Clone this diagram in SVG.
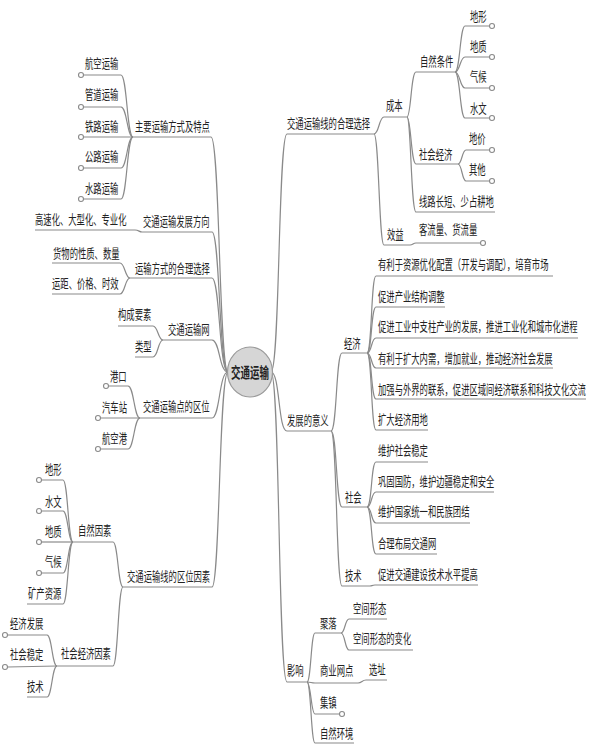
<svg xmlns="http://www.w3.org/2000/svg" width="591" height="746" viewBox="0 0 591 746">
<style>
.t{font-family:"Noto Sans CJK SC","Liberation Sans",sans-serif;font-size:13px;fill:#222;dominant-baseline:central}
.c{fill:none;stroke:#8a8a8a;stroke-width:1.2}
.d{fill:#fff;stroke:#8a8a8a;stroke-width:1.1}
</style>
<rect width="591" height="746" fill="#fff"/>
<g id="connectors">
<path class="c" d="M228,372 C219,372 220,137 211,137 L133,137"/>
<path class="c" d="M228,372 C219,372 220,232 212,232 L142,232"/>
<path class="c" d="M228,372 C219,372 220,278 212,278 L130,278"/>
<path class="c" d="M228,372 C219,372 220,340 212,340 L163,340"/>
<path class="c" d="M228,372 C219,372 220,418 212,418 L140,418"/>
<path class="c" d="M228,372 C219,372 220,587 212,587 L123,587"/>
<path class="c" d="M133,137 C127,137 127,75 121,75 L83.5,75"/>
<path class="c" d="M133,137 C127,137 127,107 121,107 L83.5,107"/>
<path class="c" d="M133,137 L83.5,137"/>
<path class="c" d="M133,137 C127,137 127,168 121,168 L83.5,168"/>
<path class="c" d="M133,137 C127,137 127,199 121,199 L83.5,199"/>
<path class="c" d="M142,232 C139,232 139,230 135,230 L35,230"/>
<path class="c" d="M130,278 C125,278 125,263 120,263 L52,263"/>
<path class="c" d="M130,278 C125,278 125,294 120,294 L52,294"/>
<path class="c" d="M163,340 C158,340 158,326 153,326 L118,326"/>
<path class="c" d="M163,340 C158,340 158,357 153,357 L135,357"/>
<path class="c" d="M140,418 C134,418 134,386 128,386 L108.5,386"/>
<path class="c" d="M140,418 L100.5,418"/>
<path class="c" d="M140,418 C134,418 134,449 128,449 L100.5,449"/>
<path class="c" d="M123,587 C118,587 118,542 113,542 L73,542"/>
<path class="c" d="M123,587 C118,587 118,666 113,666 L57,666"/>
<path class="c" d="M73,542 C68,542 68,480 63,480 L41.5,480"/>
<path class="c" d="M73,542 C68,542 68,511 63,511 L41.5,511"/>
<path class="c" d="M73,542 L41.5,542"/>
<path class="c" d="M73,542 C68,542 68,573 63,573 L41.5,573"/>
<path class="c" d="M73,542 C68,542 68,604 63,604 L27,604"/>
<path class="c" d="M57,666 C52,666 52,635 47,635 L7.5,635"/>
<path class="c" d="M57,666 L7.5,667"/>
<path class="c" d="M57,666 C52,666 52,697 47,697 L27,697"/>
<path class="c" d="M271,372 C280,372 278,134 287,134 L374,134"/>
<path class="c" d="M271,372 C280,372 278,431 287,431 L331,431"/>
<path class="c" d="M271,372 C280,372 278,682 287,682 L307,682"/>
<path class="c" d="M374,134 C379,134 379,117 384,117 L407,117"/>
<path class="c" d="M374,134 C379,134 379,245 384,245 L410,245"/>
<path class="c" d="M407,117 C411,117 411,72 416,72 L455,72"/>
<path class="c" d="M407,117 C411,117 411,164 416,164 L458,164"/>
<path class="c" d="M407,117 C411,117 411,212 416,212 L495,212"/>
<path class="c" d="M455,72 C460,72 460,26 465,26 L489.5,26"/>
<path class="c" d="M455,72 C460,72 460,57 465,57 L489.5,57"/>
<path class="c" d="M455,72 C460,72 460,88 465,88 L489.5,88"/>
<path class="c" d="M455,72 C460,72 460,118 465,118 L489.5,118"/>
<path class="c" d="M458,164 C462,164 462,150 466,150 L489.5,150"/>
<path class="c" d="M458,164 C462,164 462,181 466,181 L489.5,181"/>
<path class="c" d="M410,245 C413,245 413,243 416,243 L480.5,243"/>
<path class="c" d="M331,431 C337,431 336,353 342,353 L367,353"/>
<path class="c" d="M331,431 C337,431 336,507 342,507 L367,507"/>
<path class="c" d="M331,431 C337,431 336,586 342,586 L370,586"/>
<path class="c" d="M367,353 C372,353 371,276 376,276 L553,276"/>
<path class="c" d="M367,353 C372,353 371,307 376,307 L445,307"/>
<path class="c" d="M367,353 C372,353 371,338 376,338 L578,338"/>
<path class="c" d="M367,353 C372,353 371,368 376,368 L553,368"/>
<path class="c" d="M367,353 C372,353 371,399 376,399 L586,399"/>
<path class="c" d="M367,353 C372,353 371,430 376,430 L428,430"/>
<path class="c" d="M367,507 C372,507 371,462 376,462 L428,462"/>
<path class="c" d="M367,507 C372,507 371,492 376,492 L494,492"/>
<path class="c" d="M367,507 C372,507 371,523 376,523 L470,523"/>
<path class="c" d="M367,507 C372,507 371,554 376,554 L437,554"/>
<path class="c" d="M370,586 C372,586 372,585 375,585 L478,585"/>
<path class="c" d="M307,682 C311,682 311,633 315,633 L341,633"/>
<path class="c" d="M307,682 C311,682 311,683 315,683 L358,683"/>
<path class="c" d="M307,682 C311,682 311,714 315,714 L339.5,714"/>
<path class="c" d="M307,682 C311,682 311,743 315,743 L354,743"/>
<path class="c" d="M341,633 C345,633 345,619 349,619 L387,619"/>
<path class="c" d="M341,633 C345,633 345,650 349,650 L413,650"/>
<path class="c" d="M358,683 C362,683 362,680 366,680 L387,680"/>
</g>
<g id="ends">
<circle class="d" cx="81" cy="75" r="2.5"/>
<circle class="d" cx="81" cy="107" r="2.5"/>
<circle class="d" cx="81" cy="137" r="2.5"/>
<circle class="d" cx="81" cy="168" r="2.5"/>
<circle class="d" cx="81" cy="199" r="2.5"/>
<circle class="d" cx="106" cy="386" r="2.5"/>
<circle class="d" cx="98" cy="418" r="2.5"/>
<circle class="d" cx="98" cy="449" r="2.5"/>
<circle class="d" cx="39" cy="480" r="2.5"/>
<circle class="d" cx="39" cy="511" r="2.5"/>
<circle class="d" cx="39" cy="542" r="2.5"/>
<circle class="d" cx="39" cy="573" r="2.5"/>
<circle class="d" cx="5" cy="635" r="2.5"/>
<circle class="d" cx="5" cy="667" r="2.5"/>
<circle class="d" cx="492" cy="26" r="2.5"/>
<circle class="d" cx="492" cy="57" r="2.5"/>
<circle class="d" cx="492" cy="88" r="2.5"/>
<circle class="d" cx="492" cy="118" r="2.5"/>
<circle class="d" cx="492" cy="150" r="2.5"/>
<circle class="d" cx="492" cy="181" r="2.5"/>
<circle class="d" cx="483" cy="243" r="2.5"/>
<circle class="d" cx="342" cy="714" r="2.5"/>
</g>
<g id="center">
<ellipse cx="250" cy="372" rx="22.5" ry="25" fill="#d6d6d6" stroke="#9a9a9a" stroke-width="1.2"/>
<text class="t" transform="translate(231 372) scale(0.655 1)" style="font-size:14.5px;font-weight:bold">交通运输</text>
</g>
<g id="n-zhuyao">
<text class="t" transform="translate(135 125) scale(0.64 1)">主要运输方式及特点</text>
<text class="t" transform="translate(85 62) scale(0.64 1)">航空运输</text>
<text class="t" transform="translate(85 93) scale(0.64 1)">管道运输</text>
<text class="t" transform="translate(85 125) scale(0.64 1)">铁路运输</text>
<text class="t" transform="translate(85 155) scale(0.64 1)">公路运输</text>
<text class="t" transform="translate(85 187) scale(0.64 1)">水路运输</text>
</g>
<g id="n-fazhanfangxiang">
<text class="t" transform="translate(143 220) scale(0.64 1)">交通运输发展方向</text>
<text class="t" transform="translate(35 218) scale(0.64 1)">高速化、大型化、专业化</text>
</g>
<g id="n-fangshixuanze">
<text class="t" transform="translate(135 267) scale(0.64 1)">运输方式的合理选择</text>
<text class="t" transform="translate(53 252) scale(0.64 1)">货物的性质、数量</text>
<text class="t" transform="translate(52 282) scale(0.64 1)">运距、价格、时效</text>
</g>
<g id="n-wang">
<text class="t" transform="translate(168 328) scale(0.64 1)">交通运输网</text>
<text class="t" transform="translate(118 313) scale(0.64 1)">构成要素</text>
<text class="t" transform="translate(135 345) scale(0.64 1)">类型</text>
</g>
<g id="n-dian">
<text class="t" transform="translate(143 405) scale(0.64 1)">交通运输点的区位</text>
<text class="t" transform="translate(110 375) scale(0.64 1)">港口</text>
<text class="t" transform="translate(102 406) scale(0.64 1)">汽车站</text>
<text class="t" transform="translate(102 437) scale(0.64 1)">航空港</text>
</g>
<g id="n-quwei">
<text class="t" transform="translate(127 575) scale(0.64 1)">交通运输线的区位因素</text>
<text class="t" transform="translate(78 529) scale(0.64 1)">自然因素</text>
<text class="t" transform="translate(45 468) scale(0.64 1)">地形</text>
<text class="t" transform="translate(45 500) scale(0.64 1)">水文</text>
<text class="t" transform="translate(45 530) scale(0.64 1)">地质</text>
<text class="t" transform="translate(45 560) scale(0.64 1)">气候</text>
<text class="t" transform="translate(28 592) scale(0.64 1)">矿产资源</text>
<text class="t" transform="translate(61 652) scale(0.64 1)">社会经济因素</text>
<text class="t" transform="translate(10 622) scale(0.64 1)">经济发展</text>
<text class="t" transform="translate(10 653) scale(0.64 1)">社会稳定</text>
<text class="t" transform="translate(27 685) scale(0.64 1)">技术</text>
</g>
<g id="n-heli">
<text class="t" transform="translate(287 122) scale(0.64 1)">交通运输线的合理选择</text>
<text class="t" transform="translate(386 104) scale(0.64 1)">成本</text>
<text class="t" transform="translate(420 60) scale(0.64 1)">自然条件</text>
<text class="t" transform="translate(470 15) scale(0.64 1)">地形</text>
<text class="t" transform="translate(470 45) scale(0.64 1)">地质</text>
<text class="t" transform="translate(470 75) scale(0.64 1)">气候</text>
<text class="t" transform="translate(470 107) scale(0.64 1)">水文</text>
<text class="t" transform="translate(419 153) scale(0.64 1)">社会经济</text>
<text class="t" transform="translate(469 137) scale(0.64 1)">地价</text>
<text class="t" transform="translate(469 168) scale(0.64 1)">其他</text>
<text class="t" transform="translate(419 200) scale(0.64 1)">线路长短、少占耕地</text>
<text class="t" transform="translate(387 233) scale(0.64 1)">效益</text>
<text class="t" transform="translate(419 228) scale(0.64 1)">客流量、货流量</text>
</g>
<g id="n-yiyi">
<text class="t" transform="translate(287 419) scale(0.64 1)">发展的意义</text>
<text class="t" transform="translate(344 342) scale(0.64 1)">经济</text>
<text class="t" transform="translate(378 263) scale(0.64 1)">有利于资源优化配置（开发与调配），培育市场</text>
<text class="t" transform="translate(378 295) scale(0.64 1)">促进产业结构调整</text>
<text class="t" transform="translate(378 325) scale(0.64 1)">促进工业中支柱产业的发展，推进工业化和城市化进程</text>
<text class="t" transform="translate(378 357) scale(0.64 1)">有利于扩大内需，增加就业，推动经济社会发展</text>
<text class="t" transform="translate(378 388) scale(0.64 1)">加强与外界的联系，促进区域间经济联系和科技文化交流</text>
<text class="t" transform="translate(378 418) scale(0.64 1)">扩大经济用地</text>
<text class="t" transform="translate(345 496) scale(0.64 1)">社会</text>
<text class="t" transform="translate(378 449) scale(0.64 1)">维护社会稳定</text>
<text class="t" transform="translate(378 480) scale(0.64 1)">巩固国防，维护边疆稳定和安全</text>
<text class="t" transform="translate(378 510) scale(0.64 1)">维护国家统一和民族团结</text>
<text class="t" transform="translate(378 542) scale(0.64 1)">合理布局交通网</text>
<text class="t" transform="translate(345 574) scale(0.64 1)">技术</text>
<text class="t" transform="translate(378 573) scale(0.64 1)">促进交通建设技术水平提高</text>
</g>
<g id="n-yingxiang">
<text class="t" transform="translate(287 669) scale(0.64 1)">影响</text>
<text class="t" transform="translate(320 622) scale(0.64 1)">聚落</text>
<text class="t" transform="translate(353 607) scale(0.64 1)">空间形态</text>
<text class="t" transform="translate(353 637) scale(0.64 1)">空间形态的变化</text>
<text class="t" transform="translate(320 669) scale(0.64 1)">商业网点</text>
<text class="t" transform="translate(369 668) scale(0.64 1)">选址</text>
<text class="t" transform="translate(320 701) scale(0.64 1)">集镇</text>
<text class="t" transform="translate(320 732) scale(0.64 1)">自然环境</text>
</g>
</svg>
